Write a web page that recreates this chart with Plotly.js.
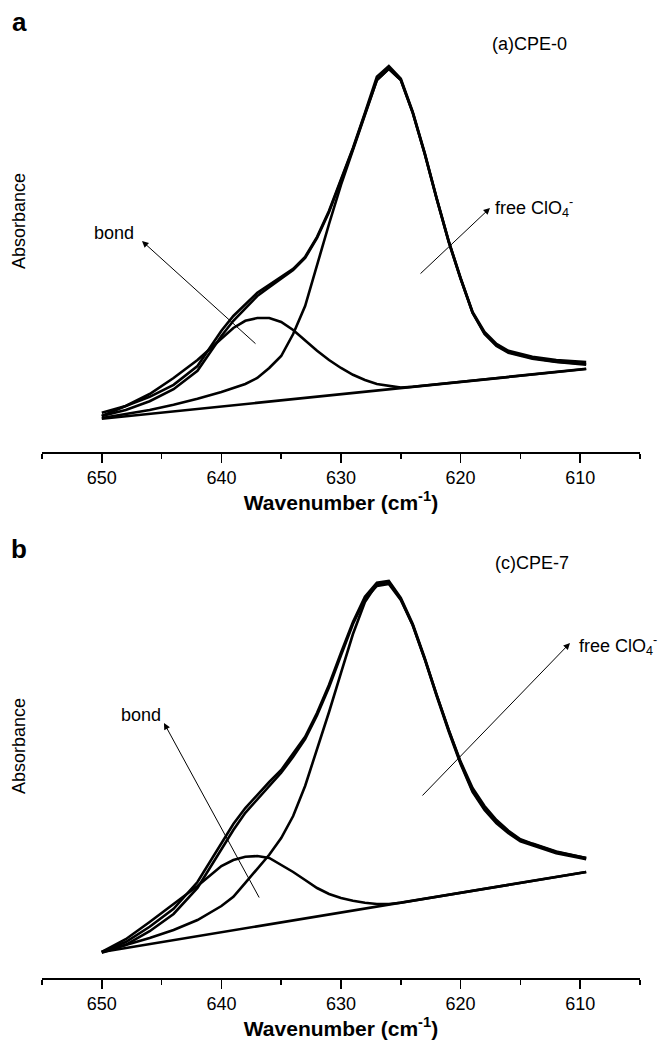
<!DOCTYPE html>
<html>
<head>
<meta charset="utf-8">
<script src="https://cdn.plot.ly/plotly-3.0.1.min.js"></script>
<style>html,body{margin:0;padding:0;background:#fff}</style>
</head>
<body>
<div id="chart" style="width:659px;height:1048px"></div>
<script>
// wavenumber grid (cm-1)
const wn = [650,648,646,644,642,640,639,638,637,636,635,634,633,632,631,630,629,628,627,626,625,624,623,622,621,620,619,618,617,616,615,614,612,610,609.5];
const wnBase = [650, 609.5];

// Panel a: CPE-0
const aExp  = [0.098,0.115,0.138,0.168,0.215,0.303,0.340,0.370,0.398,0.418,0.438,0.458,0.488,0.538,0.603,0.680,0.760,0.848,0.938,0.965,0.933,0.850,0.748,0.635,0.528,0.435,0.350,0.300,0.270,0.253,0.245,0.238,0.230,0.226,0.225];
const aFit  = [0.090,0.105,0.127,0.157,0.203,0.290,0.328,0.360,0.390,0.412,0.433,0.455,0.485,0.535,0.600,0.678,0.758,0.845,0.930,0.958,0.930,0.848,0.746,0.633,0.527,0.434,0.348,0.297,0.267,0.250,0.242,0.235,0.226,0.221,0.220];
const aFree = [0.085,0.095,0.105,0.118,0.133,0.150,0.160,0.170,0.185,0.210,0.240,0.295,0.365,0.470,0.570,0.668,0.755,0.838,0.930,0.958,0.930,0.848,0.745,0.633,0.525,0.433,0.348,0.295,0.265,0.248,0.240,0.233,0.225,0.220,0.218];
const aBond = [0.090,0.115,0.145,0.185,0.230,0.285,0.310,0.328,0.335,0.335,0.325,0.305,0.278,0.253,0.230,0.210,0.193,0.180,0.170,0.165,0.161,0.163,0.166,0.169,0.172,0.175,0.179,0.182,0.185,0.188,0.191,0.194,0.200,0.206,0.208];
const aBase = [0.083, 0.2075];

// Panel b: CPE-7
const bExp  = [0.080,0.105,0.143,0.188,0.255,0.350,0.400,0.440,0.473,0.505,0.535,0.575,0.618,0.678,0.748,0.828,0.905,0.968,1.003,1.008,0.965,0.900,0.815,0.723,0.635,0.553,0.483,0.438,0.405,0.380,0.360,0.350,0.330,0.318,0.315];
const bFit  = [0.078,0.098,0.132,0.175,0.240,0.335,0.385,0.428,0.462,0.496,0.528,0.568,0.612,0.672,0.742,0.822,0.900,0.962,0.995,1.000,0.960,0.897,0.813,0.722,0.636,0.556,0.490,0.445,0.410,0.383,0.362,0.351,0.331,0.318,0.315];
const bFree = [0.080,0.098,0.115,0.135,0.160,0.195,0.218,0.253,0.288,0.323,0.365,0.420,0.495,0.585,0.680,0.778,0.875,0.955,1.000,1.005,0.962,0.897,0.812,0.720,0.632,0.550,0.480,0.435,0.402,0.377,0.357,0.347,0.327,0.315,0.312];
const bBond = [0.080,0.112,0.155,0.200,0.245,0.295,0.310,0.318,0.320,0.315,0.298,0.280,0.260,0.240,0.225,0.215,0.208,0.203,0.200,0.200,0.203,0.208,0.213,0.218,0.223,0.228,0.233,0.238,0.243,0.248,0.253,0.258,0.268,0.2775,0.280];
const bBase = [0.080, 0.280];

const tickVals = [650,640,630,620,610];
const tickText = ['650','640','630','620','610'];

const FONT = 'Liberation Sans, Arial, Helvetica, sans-serif';
const LW = 2.6;
function line(x, y, xa, ya, w) {
  return {x: x, y: y, xaxis: xa, yaxis: ya, type: 'scatter', mode: 'lines',
          line: {color: '#000', width: w || LW}, hoverinfo: 'skip'};
}

const data = [
  line(wnBase, aBase, 'x', 'y'),
  line(wn, aBond, 'x', 'y'),
  line(wn, aFree, 'x', 'y'),
  line(wn, aFit, 'x', 'y'),
  line(wn, aExp, 'x', 'y'),
  line(wnBase, bBase, 'x2', 'y2'),
  line(wn, bBond, 'x2', 'y2'),
  line(wn, bFree, 'x2', 'y2'),
  line(wn, bFit, 'x2', 'y2'),
  line(wn, bExp, 'x2', 'y2')
];

function xax(anchor) {
  return {
    anchor: anchor, domain: [0, 1], range: [655, 605],
    tickmode: 'array', tickvals: tickVals, ticktext: tickText,
    ticks: 'outside', ticklen: 9, tickwidth: 1.5, tickcolor: '#000',
    showline: true, linewidth: 1.5, linecolor: '#000',
    showgrid: false, zeroline: false,
    minor: {dtick: 5, tick0: 605, ticks: 'outside', ticklen: 5, tickwidth: 1.5, tickcolor: '#000', showgrid: false},
    tickfont: {family: FONT, size: 18, color: '#000'},
    title: {text: '<b>Wavenumber (cm<sup>-1</sup>)</b>', font: {family: FONT, size: 21, color: '#000'}, standoff: 8}
  };
}

// pixel helpers for paper-positioned text
const L = 42, R = 640, T = 40, B = 978;
const px = v => (v - L) / (R - L);
const py = v => (B - v) / (B - T);

const layout = {
  width: 659, height: 1048,
  margin: {l: L, r: 659 - R, t: T, b: 1048 - B, pad: 0},
  paper_bgcolor: '#fff', plot_bgcolor: '#fff',
  showlegend: false,
  font: {family: FONT, size: 18, color: '#000'},
  xaxis: xax('y'),
  xaxis2: xax('y2'),
  yaxis: {domain: [py(452), 1], range: [0, 1.03], visible: false, fixedrange: true},
  yaxis2: {domain: [0, py(572)], range: [0.015, 1.03], visible: false, fixedrange: true}
};

function label(text, x, y, opts) {
  return Object.assign({text: text, x: px(x), y: py(y), xref: 'paper', yref: 'paper',
    xanchor: 'center', yanchor: 'middle', showarrow: false, font: {family: FONT, size: 18, color: '#000'}}, opts || {});
}
function arrow(x, y, xr, yr, ax, ay) {
  return {text: '', x: x, y: y, xref: xr, yref: yr, ax: ax, ay: ay, showarrow: true,
    arrowhead: 2, arrowsize: 1.3, arrowwidth: 1, arrowcolor: '#000', standoff: 0, startstandoff: 0};
}

layout.annotations = [
  label('<b>a</b>', 19, 22, {font: {family: FONT, size: 26, color: '#000'}}),
  label('<b>b</b>', 19, 549, {font: {family: FONT, size: 26, color: '#000'}}),
  label('(a)CPE-0', 529, 44),
  label('(c)CPE-7', 532, 563),
  label('Absorbance', 19, 221, {textangle: -90}),
  label('Absorbance', 19, 746, {textangle: -90}),
  label('bond', 114, 233),
  label('bond', 141, 715),
  label('free ClO<sub>4</sub><sup>-</sup>', 493, 207, {xanchor: 'left'}),
  label('free ClO<sub>4</sub><sup>-</sup>', 577, 645, {xanchor: 'left'}),
  arrow(646.64, 0.5275, 'x', 'y', 115, 104),
  arrow(617.54, 0.61, 'x', 'y', -71, 67),
  arrow(644.80, 0.6525, 'x2', 'y2', 96, 176),
  arrow(610.85, 0.8525, 'x2', 'y2', -149, 154)
];

Plotly.newPlot('chart', data, layout, {staticPlot: true, displayModeBar: false});
</script>
</body>
</html>
